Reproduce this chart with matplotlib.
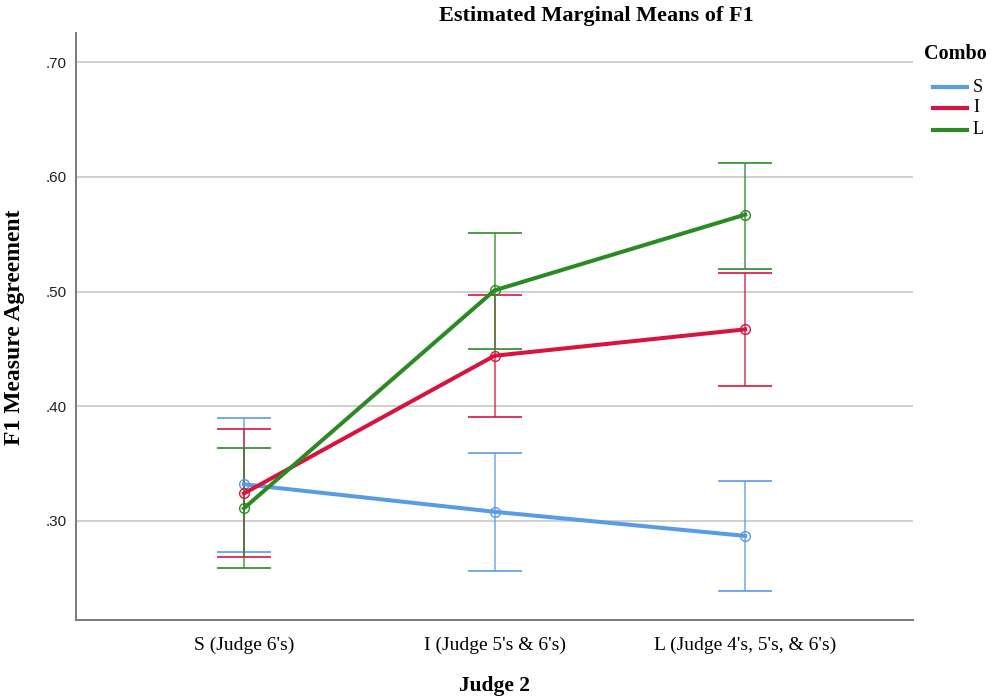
import matplotlib
matplotlib.use("Agg")
import matplotlib.pyplot as plt
from matplotlib.lines import Line2D
from matplotlib.ticker import FuncFormatter

# Estimated marginal means of F1 with 95% CI bounds
categories = ["S (Judge 6's)", "I (Judge 5's & 6's)", "L (Judge 4's, 5's, & 6's)"]
combos = ["S", "I", "L"]

means_S = [0.332, 0.308, 0.287]
lower_S = [0.273, 0.256, 0.239]
upper_S = [0.390, 0.359, 0.335]

means_I = [0.324, 0.444, 0.467]
lower_I = [0.269, 0.391, 0.418]
upper_I = [0.380, 0.497, 0.516]

means_L = [0.311, 0.501, 0.567]
lower_L = [0.259, 0.450, 0.520]
upper_L = [0.364, 0.551, 0.612]

y_ticks = [0.30, 0.40, 0.50, 0.60, 0.70]

colors = {"S": "#5A9BE6", "I": "#D7143F", "L": "#2C8A24"}
series = {
    "S": (means_S, lower_S, upper_S),
    "I": (means_I, lower_I, upper_I),
    "L": (means_L, lower_L, upper_L),
}

serif = ["Liberation Serif", "DejaVu Serif"]
sans = ["Liberation Sans", "DejaVu Sans"]

W, H = 993, 696
fig = plt.figure(figsize=(W / 100, H / 100), dpi=100)
ax = fig.add_axes([76 / W, 1 - 620 / H, (913 - 76) / W, (620 - 33) / H])

x = list(range(len(categories)))
for name in combos:
    m, lo, hi = series[name]
    c = colors[name]
    yerr = [[mm - l for mm, l in zip(m, lo)], [h - mm for mm, h in zip(m, hi)]]
    ax.errorbar(x, m, yerr=yerr, fmt="none", ecolor=c, elinewidth=1.1,
                capsize=19.5, capthick=1.4, alpha=0.85, zorder=3)
    ax.plot(x, m, color=c, lw=2.9, marker="o", markersize=7,
            markerfacecolor="none", markeredgecolor=c, markeredgewidth=1.0,
            zorder=4, label=name)

ax.set_xlim(-0.67, 2.67)
ax.set_ylim(0.2137, 0.7253)
ax.set_xticks(x)
ax.set_xticklabels(categories, family=serif, fontsize=14)
ax.set_yticks(y_ticks)
ax.yaxis.set_major_formatter(FuncFormatter(lambda v, p: f"{v:.2f}".lstrip("0")))
for t in ax.get_yticklabels():
    t.set_family(sans)
    t.set_fontsize(11)
    t.set_color("#222222")
ax.tick_params(axis="both", length=0)
ax.tick_params(axis="x", pad=12)
ax.tick_params(axis="y", pad=7)

ax.grid(axis="y", color="#c8c8c8", lw=1.2, zorder=0)
ax.set_axisbelow(True)
for s in ["top", "right"]:
    ax.spines[s].set_visible(False)
for s in ["left", "bottom"]:
    ax.spines[s].set_color("#7a7a7a")
    ax.spines[s].set_linewidth(1.4)

fig.text(596 / W, 1 - 16 / H, "Estimated Marginal Means of F1", family=serif,
         fontsize=16, fontweight="bold", ha="center", va="center")
fig.text(15 / W, 1 - 327 / H, "F1 Measure Agreement", family=serif, fontsize=17,
         fontweight="bold", rotation=90, ha="center", va="center")
fig.text(494 / W, 1 - 686 / H, "Judge 2", family=serif, fontsize=15.5,
         fontweight="bold", ha="center", va="center")

# Legend block: title, then short line handles with labels
fig.text(924 / W, 1 - 54 / H, "Combo", family=serif, fontsize=14.5,
         fontweight="bold", ha="left", va="center")
for name, ypx in zip(combos, [87, 108, 130]):
    fy = 1 - ypx / H
    fig.add_artist(Line2D([933 / W, 967 / W], [fy, fy], color=colors[name], lw=3.0,
                          transform=fig.transFigure))
    fig.text(973 / W, fy, name, family=serif, fontsize=13, ha="left", va="center")

fig.savefig("out.png", dpi=100)
